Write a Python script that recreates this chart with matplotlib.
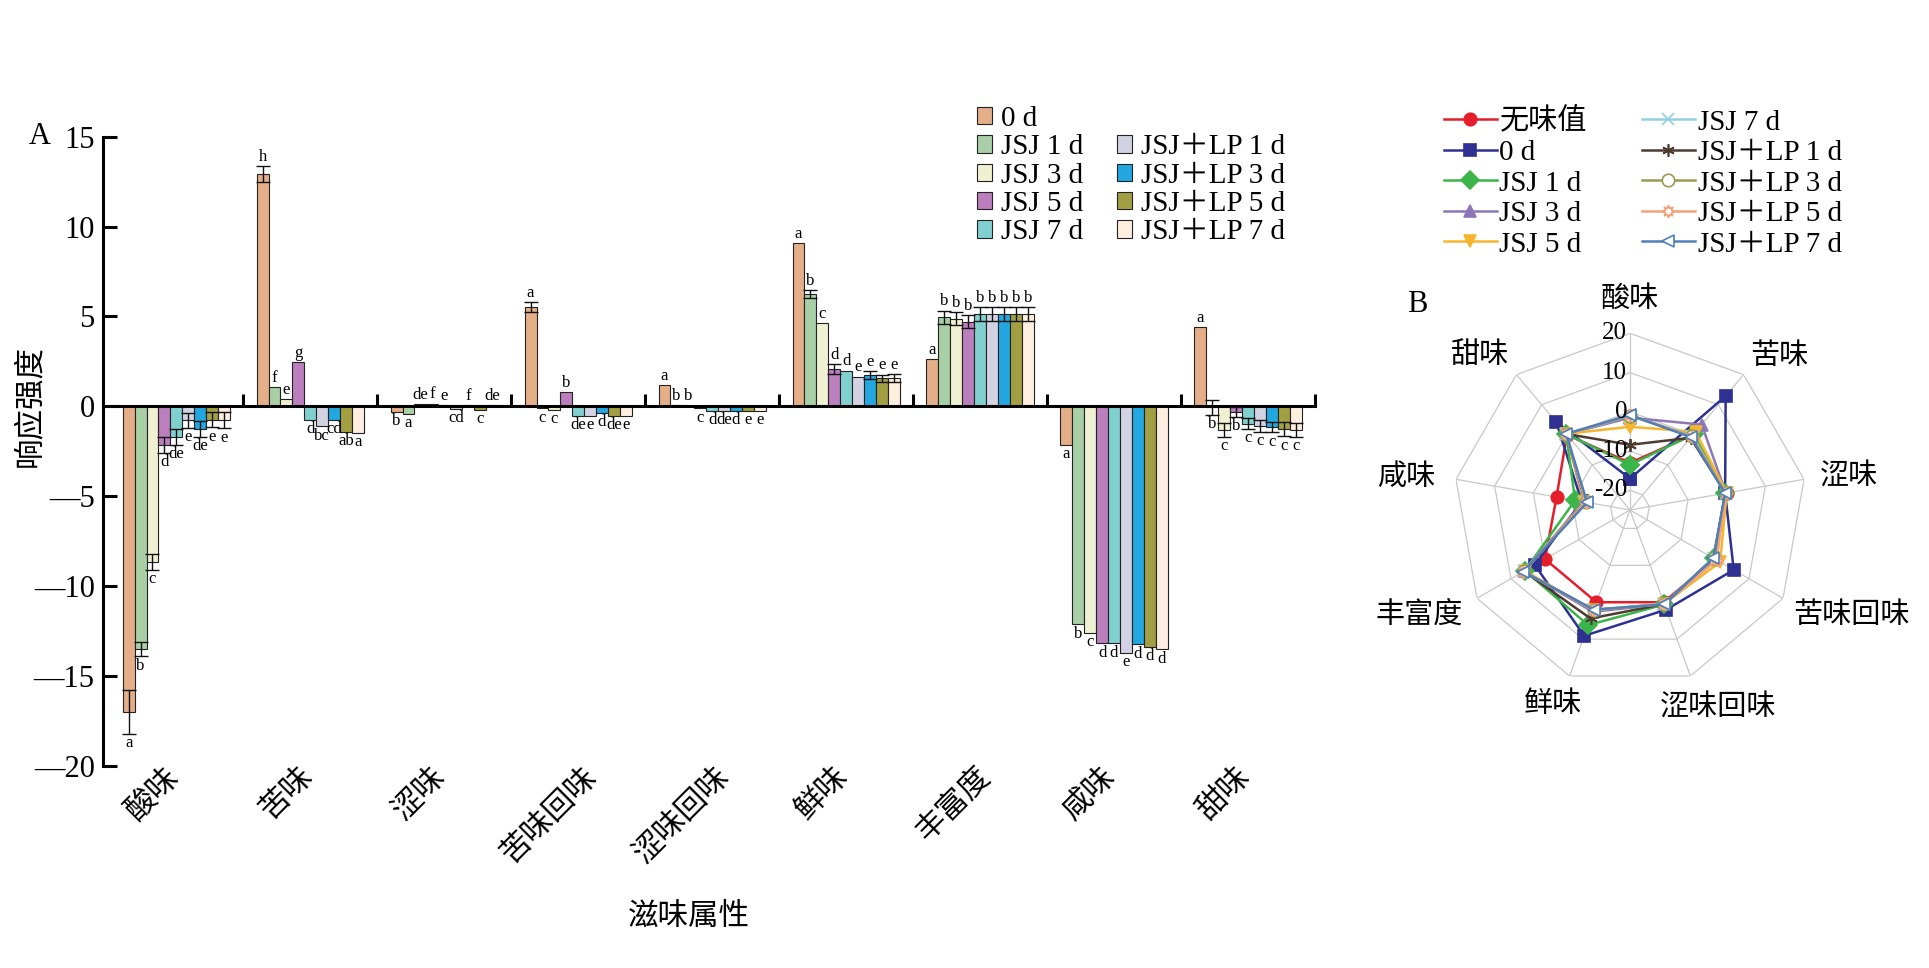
import numpy as np
import matplotlib
matplotlib.use('Agg')
import matplotlib.pyplot as plt
from matplotlib.patches import Patch

plt.rcParams['font.family'] = ['Liberation Serif', 'Noto Sans CJK SC']

# taste attributes (x categories of A, spokes of B)
categories = ['酸味', '苦味', '涩味', '苦味回味', '涩味回味', '鲜味', '丰富度', '咸味', '甜味']
series_names = ['0 d', 'JSJ 1 d', 'JSJ 3 d', 'JSJ 5 d', 'JSJ 7 d',
                'JSJ＋LP 1 d', 'JSJ＋LP 3 d', 'JSJ＋LP 5 d', 'JSJ＋LP 7 d']
bar_colors = ['#E3AE88', '#A8CFA5', '#F0F0D2', '#BA7FBC', '#80D0CF',
              '#D2D2E2', '#22A7E0', '#A29F42', '#FDEEDF']

# response values per series (order of categories)
val_0d = [-17.0, 12.93, -0.31, 5.52, 1.19, 9.08, 2.63, -2.14, 4.41]
val_jsj1 = [-13.5, 1.07, -0.42, -0.10, 0.07, 6.24, 4.96, -12.13, -0.05]
val_jsj3 = [-8.65, 0.41, 0.13, -0.18, 0.03, 4.63, 4.87, -12.59, -1.30]
val_jsj5 = [-2.15, 2.46, 0.15, 0.80, -0.10, 2.07, 4.72, -13.18, -0.31]
val_jsj7 = [-1.70, -0.74, 0.07, -0.52, -0.23, 1.98, 5.13, -13.18, -0.96]
val_lp1 = [-0.78, -1.11, -0.13, -0.52, -0.23, 1.65, 5.13, -13.70, -1.07]
val_lp3 = [-1.26, -0.74, 0.08, -0.35, -0.23, 1.74, 5.13, -13.24, -1.15]
val_lp5 = [-0.74, -1.42, -0.18, -0.52, -0.23, 1.57, 5.13, -13.37, -1.26]
val_lp7 = [-0.78, -1.48, 0.08, -0.52, -0.23, 1.57, 5.13, -13.52, -1.30]
bar_values = [val_0d, val_jsj1, val_jsj3, val_jsj5, val_jsj7, val_lp1, val_lp3, val_lp5, val_lp7]

# standard deviations (0 = no error bar drawn)
err_0d = [1.2, 0.43, 0, 0.26, 0, 0, 0, 0, 0]
err_jsj1 = [0.40, 0, 0, 0, 0, 0.22, 0.37, 0, 0.43]
err_jsj3 = [0.44, 0, 0, 0, 0, 0, 0.37, 0, 0.39]
err_jsj5 = [0.42, 0, 0, 0, 0, 0.27, 0.35, 0, 0.28]
err_jsj7 = [0.43, 0, 0, 0, 0, 0, 0.37, 0, 0.30]
err_lp1 = [0.42, 0, 0, 0, 0, 0, 0.37, 0, 0.33]
err_lp3 = [0.44, 0, 0, 0, 0, 0.23, 0.37, 0, 0.30]
err_lp5 = [0.43, 0, 0, 0, 0, 0.20, 0.37, 0, 0.40]
err_lp7 = [0.44, 0, 0, 0, 0, 0.22, 0.37, 0, 0.40]
bar_errors = [err_0d, err_jsj1, err_jsj3, err_jsj5, err_jsj7, err_lp1, err_lp3, err_lp5, err_lp7]

# significance letters
sig_0d = ['a', 'h', 'b', 'a', 'a', 'a', 'a', 'a', 'a']
sig_jsj1 = ['b', 'f', 'a', 'c', 'b', 'b', 'b', 'b', 'b']
sig_jsj3 = ['c', 'e', 'de', 'c', 'b', 'c', 'b', 'c', 'c']
sig_jsj5 = ['d', 'g', 'f', 'b', 'c', 'd', 'b', 'd', 'b']
sig_jsj7 = ['de', 'd', 'e', 'de', 'd', 'd', 'b', 'd', 'c']
sig_lp1 = ['e', 'bc', 'cd', 'e', 'de', 'e', 'b', 'e', 'c']
sig_lp3 = ['de', 'cd', 'f', 'd', 'd', 'e', 'b', 'd', 'c']
sig_lp5 = ['e', 'ab', 'c', 'de', 'e', 'e', 'b', 'd', 'c']
sig_lp7 = ['e', 'a', 'de', 'e', 'e', 'e', 'b', 'd', 'c']
sig_letters = [sig_0d, sig_jsj1, sig_jsj3, sig_jsj5, sig_jsj7, sig_lp1, sig_lp3, sig_lp5, sig_lp7]

y_ticks = [15, 10, 5, 0, -5, -10, -15, -20]

# radar (B) values
radar_names = ['无味值'] + series_names
rad_blank = [-13, 0, 0, 0, 0, 0, 0, -6, 0]
rad_0d = [-17.0, 12.9, -0.4, 5.5, 2.0, 9.1, 3.0, -12.5, 4.2]
rad_jsj1 = [-13.5, 0.2, -0.4, -0.3, 0.6, 6.2, 5.9, -10.8, 0.3]
rad_jsj3 = [-1.5, 3.4, -0.2, -0.3, 0.5, 2.6, 6.2, -13.0, 0.2]
rad_jsj5 = [-3.8, 1.0, 0.0, 1.5, 0.4, 2.2, 6.0, -13.2, 0.3]
rad_jsj7 = [-1.0, -0.3, -0.3, -0.4, 0.4, 2.1, 6.3, -13.4, 0.2]
rad_lp1 = [-8.4, -1.0, -0.3, -0.4, 0.5, 4.4, 6.2, -13.5, 0.3]
rad_lp3 = [-1.0, -0.5, -0.3, -0.4, 0.5, 2.1, 6.3, -13.5, 0.3]
rad_lp5 = [-0.8, -0.6, -0.3, 0.5, 0.5, 2.1, 6.4, -13.6, 0.2]
rad_lp7 = [-0.8, -0.8, -0.4, -0.5, 0.6, 2.0, 6.4, -13.9, 0.3]
radar_values = [rad_blank, rad_0d, rad_jsj1, rad_jsj3, rad_jsj5, rad_jsj7,
                rad_lp1, rad_lp3, rad_lp5, rad_lp7]
radar_colors = ['#E41E2B', '#2E3192', '#3BB54A', '#8C77B8', '#F6B52C', '#92D0E0',
                '#4E3B30', '#9C9A52', '#F4A07A', '#4F7FB8']
radar_markers = ['o', 's', 'D', '^', 'v', 'x', (6, 2, 0), 'o', (8, 1, 0), '<']
radar_open = [False, False, False, False, False, False, False, True, True, True]
ring_levels = [-20, -10, 0, 10, 20]

# offsets (px) of the spoke labels from the outer vertex
spoke_label_shift = [(0, 34), (36, 18), (45, 3), (68, -17), (28, -31),
                     (-16, -29), (-58, -17), (-50, 2), (-36, 19)]

fig = plt.figure(figsize=(19.29, 9.68), dpi=100)

# ---------------- A: grouped bars ----------------
ax = fig.add_axes([0.0534, 0.2087, 0.6283, 0.6501])
n = len(series_names)
w = 0.8 / n
x = np.arange(len(categories))
for j, name in enumerate(series_names):
    vals = np.array(bar_values[j])
    errs = np.array(bar_errors[j])
    xs = x + (j - (n - 1) / 2) * w
    ax.bar(xs, vals, w, color=bar_colors[j], edgecolor='#222222', linewidth=0.8,
           label=name, zorder=2)
    m = errs > 0
    ax.errorbar(xs[m], vals[m], yerr=errs[m], fmt='none', ecolor='#111111',
                elinewidth=1.0, capsize=5, capthick=1.0, zorder=3)
    for k in range(len(categories)):
        v, e = vals[k], errs[k]
        if v >= 0:
            ax.text(xs[k], v + e + 0.08, sig_letters[j][k], ha='center', va='bottom',
                    fontsize=12)
        else:
            ax.text(xs[k], v - e - 0.08, sig_letters[j][k], ha='center', va='top',
                    fontsize=12)

ax.set_xlim(-0.547, 8.5)
ax.set_ylim(-20, 15)
for s in ['top', 'right']:
    ax.spines[s].set_visible(False)
ax.spines['bottom'].set_position(('data', 0))
ax.spines['bottom'].set_linewidth(2.2)
ax.spines['left'].set_linewidth(2.2)
ax.set_xticks(x + 0.5)
ax.tick_params(axis='x', direction='in', length=9, width=2.2, labelbottom=False)
ax.set_yticks(y_ticks)
ax.set_yticklabels([str(t) if t >= 0 else '—' + str(-t) for t in y_ticks])
ax.tick_params(axis='y', direction='in', length=10, width=2.2, labelsize=22, pad=6)
for k, c in enumerate(categories):
    ax.text(x[k] - 0.09 + 0.06 * (len(c) - 2), -19.8, c, rotation=45,
            rotation_mode='anchor', ha='right', va='top', fontsize=22)

fig.text(31 / 1929, 1 - 406 / 968, '响应强度', rotation=90, ha='center', va='center', fontsize=22)
fig.text(689 / 1929, 1 - 917 / 968, '滋味属性', ha='center', va='center', fontsize=22)
fig.text(40 / 1929, 1 - 137 / 968, 'A', ha='center', va='center', fontsize=22)

h, l = ax.get_legend_handles_labels()
blank = Patch(facecolor='none', edgecolor='none')
leg_h = h[:5] + [blank] + h[5:]
leg_l = l[:5] + [''] + l[5:]
fig.legend(leg_h, leg_l, loc='upper left', bbox_to_anchor=(977 / 1929, 1 - 106 / 968),
           ncol=2, frameon=False, fontsize=21, handlelength=0.53, handleheight=0.53,
           handletextpad=0.3, columnspacing=1.15, labelspacing=0.08, borderpad=0,
           borderaxespad=0)

# ---------------- B: radar ----------------
rax = fig.add_axes([0.7534, 0.2906, 0.1832, 0.3651], projection='polar')
rax.set_theta_zero_location('N')
rax.set_theta_direction(-1)
angles = np.arange(len(categories)) * 2 * np.pi / len(categories)
closed = np.r_[angles, angles[0]]
rax.set_ylim(-25, 20)
rax.grid(False)
rax.spines['polar'].set_visible(False)
rax.set_xticks([])
rax.set_yticks([])
rax.patch.set_alpha(0)
for rv in ring_levels:
    rax.plot(closed, [rv] * len(closed), color='#C8C8C8', lw=0.9, zorder=1)
for a in angles:
    rax.plot([a, a], [-25, 20], color='#C8C8C8', lw=0.9, zorder=1)
for rv in ring_levels:
    rax.annotate(str(rv), xy=(0, rv), xytext=(-2, 0), textcoords='offset points',
                 ha='right', va='center', fontsize=18, zorder=6)

for i, name in enumerate(radar_names):
    vals = np.array(radar_values[i])
    face = 'white' if radar_open[i] else radar_colors[i]
    rax.plot(closed, np.r_[vals, vals[0]], color=radar_colors[i], lw=1.8,
             marker=radar_markers[i], markersize=9, markerfacecolor=face,
             markeredgecolor=radar_colors[i], markeredgewidth=1.2, label=name,
             zorder=3 + i * 0.1, clip_on=False)

# spoke labels
for k, c in enumerate(categories):
    dx, dy = spoke_label_shift[k]
    rax.annotate(c, xy=(angles[k], 20), xytext=(dx * 0.72, dy * 0.72),
                 textcoords='offset points', ha='center', va='center', fontsize=21)

fig.text(1417 / 1929, 1 - 305 / 968, 'B', ha='center', va='center', fontsize=22)

rh, rl = rax.get_legend_handles_labels()
fig.legend(rh, rl, loc='upper left', bbox_to_anchor=(1444 / 1929, 1 - 108 / 968),
           ncol=2, frameon=False, fontsize=21, handlelength=1.8, handletextpad=0.1,
           columnspacing=1.9, labelspacing=0.14, borderpad=0, borderaxespad=0)

fig.savefig('out.png', dpi=100)
